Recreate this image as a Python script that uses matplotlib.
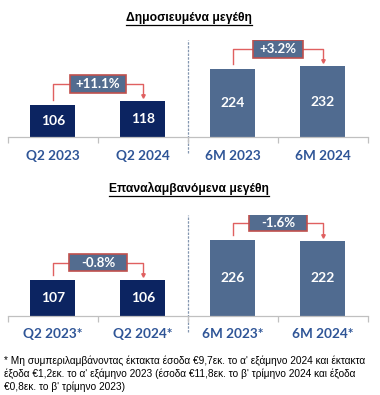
import matplotlib

matplotlib.use("Agg")
import matplotlib.pyplot as plt
from matplotlib.lines import Line2D
from matplotlib.patches import Rectangle


W, H = 380, 395

top_title = "Δημοσιευμένα μεγέθη"
top_labels = ["Q2 2023", "Q2 2024", "6M 2023", "6M 2024"]
top_values = [106, 118, 224, 232]
top_changes = ["+11.1%", "+3.2%"]

bottom_title = "Επαναλαμβανόμενα μεγέθη"
bottom_labels = ["Q2 2023*", "Q2 2024*", "6M 2023*", "6M 2024*"]
bottom_values = [107, 106, 226, 222]
bottom_changes = ["-0.8%", "-1.6%"]

footnote = (
    "* Μη συμπεριλαμβάνοντας έκτακτα έσοδα €9,7εκ. το α' εξάμηνο 2024 και έκτακτα\n"
    "έξοδα €1,2εκ. το α' εξάμηνο 2023 (έσοδα €11,8εκ. το β' τρίμηνο 2024 και έξοδα\n"
    "€0,8εκ. το β' τρίμηνο 2023)"
)

NAVY = "#0c2461"
STEEL = "#506b90"
BOX = "#536c8f"
BOX_EDGE = "#c0504d"
BRACKET = "#e06060"
LABEL = "#2f5597"
GRID = "#c0c0c0"
SEP = "#8497b0"

BAR_FONT = ["Lato", "DejaVu Sans"]
TEXT_FONT = ["Liberation Sans", "DejaVu Sans"]


def px_rect(left, top, right, bottom):
    return [left / W, 1 - bottom / H, (right - left) / W, (bottom - top) / H]


def draw_panel(fig, top, baseline, scale, labels, values, changes, box_w, box_h):
    ax = fig.add_axes(px_rect(8, top, 368, baseline))
    height_px = baseline - top
    ax.set_xlim(-0.5, 3.5)
    ax.set_ylim(0, height_px / scale)
    px = 1 / scale  # data units per vertical pixel
    xpx = 1 / 90  # data units per horizontal pixel

    x = list(range(len(values)))
    colors = [NAVY, NAVY, STEEL, STEEL]
    ax.bar(x, values, width=0.5, color=colors, zorder=2)
    for xi, v in zip(x, values):
        ax.text(xi, v / 2, f"{v}", ha="center", va="center", color="white",
                fontsize=10, fontweight="bold", family=BAR_FONT, zorder=3)

    for s in ["top", "right", "left"]:
        ax.spines[s].set_visible(False)
    ax.spines["bottom"].set_color(GRID)
    ax.spines["bottom"].set_linewidth(0.9)
    ax.set_yticks([])
    ax.set_xticks(x, labels)
    ax.set_xticks([-0.5, 0.5, 1.5, 2.5, 3.5], minor=True)
    ax.tick_params(axis="x", which="major", length=0, pad=9, labelsize=9.8,
                   labelcolor=LABEL)
    ax.tick_params(axis="x", which="minor", length=4, color=GRID, width=0.9)
    for t in ax.get_xticklabels():
        t.set_fontweight("bold")
        t.set_family(BAR_FONT)

    ax.axvline(1.5, ymin=-16 / height_px, ymax=1, color=SEP, lw=0.9,
               linestyle=(0, (2, 1)), clip_on=False, zorder=1)

    for k, (i, j) in enumerate([(0, 1), (2, 3)]):
        y_top = max(values[i], values[j]) + 17 * px
        y_left = values[i] + 5 * px
        y_right = values[j] + 4 * px
        ax.plot([i, i, j, j], [y_left, y_top, y_top, y_right + 2 * px],
                color=BRACKET, lw=1.0, zorder=3)
        ax.plot([j], [y_right + 1 * px], marker="v", markersize=2.5,
                color=BRACKET, zorder=3)
        xm = (i + j) / 2
        bw = box_w[k] * xpx
        bh = box_h * px
        ax.add_patch(Rectangle((xm - bw / 2, y_top - bh / 2), bw, bh,
                               facecolor=BOX, edgecolor=BOX_EDGE, lw=1.2,
                               zorder=4))
        ax.text(xm, y_top, changes[k], ha="center", va="center",
                color="white", fontsize=9.5, fontweight="bold",
                family=BAR_FONT, zorder=5)
    return ax


def underlined_title(fig, text, y_px):
    t = fig.text(189 / W, 1 - y_px / H, text, ha="center", va="center",
                 fontsize=8.7, fontweight="bold", family=TEXT_FONT)
    renderer = fig.canvas.get_renderer()
    bb = t.get_window_extent(renderer=renderer)
    fig_h = fig.bbox.height
    uy = (bb.y0 - 1) / fig_h
    fig.add_artist(Line2D([bb.x0 / fig.bbox.width, bb.x1 / fig.bbox.width],
                          [uy, uy], color="black", lw=0.9,
                          transform=fig.transFigure))


def main():
    fig = plt.figure(figsize=(W / 100, H / 100), dpi=100)
    fig.patch.set_facecolor("white")

    draw_panel(fig, 40, 137, 0.305, top_labels, top_values, top_changes,
               [56, 50], 18)
    draw_panel(fig, 215, 316, 0.338, bottom_labels, bottom_values,
               bottom_changes, [58, 58], 17)

    underlined_title(fig, top_title, 18)
    underlined_title(fig, bottom_title, 188)

    fig.text(4 / W, 1 - 355 / H, footnote, ha="left", va="top", fontsize=7.3,
             family=TEXT_FONT, linespacing=1.3)

    fig.savefig("out.png", dpi=100)
    plt.close(fig)


if __name__ == "__main__":
    main()
